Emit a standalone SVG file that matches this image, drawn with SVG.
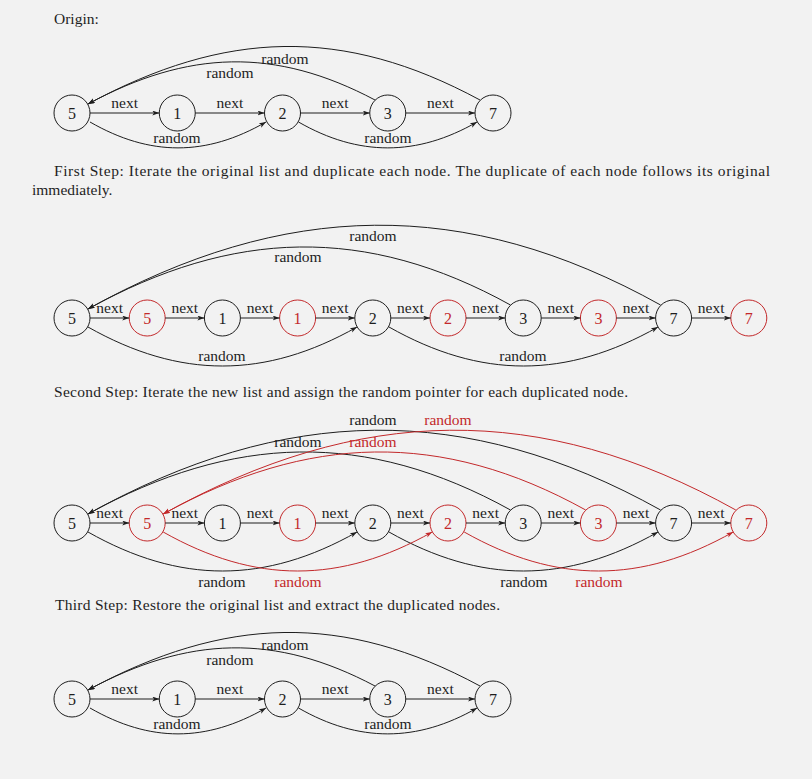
<svg xmlns="http://www.w3.org/2000/svg" width="812" height="779" viewBox="0 0 812 779">
<defs>
<marker id="ab" markerUnits="userSpaceOnUse" markerWidth="8" markerHeight="6" refX="7" refY="2.5" orient="auto"><path d="M0,0 L7,2.5 L0,5 L1.8,2.5 z" fill="#1e1e1e"/></marker>
<marker id="ar" markerUnits="userSpaceOnUse" markerWidth="8" markerHeight="6" refX="7" refY="2.5" orient="auto"><path d="M0,0 L7,2.5 L0,5 L1.8,2.5 z" fill="#c3292b"/></marker>
<style>
text{font-family:"Liberation Serif","Times New Roman",serif;fill:#1e1e1e}
.p{font-size:15.5px}
.l{font-size:15.5px;text-anchor:middle}
.d{font-size:16px;text-anchor:middle}
.rt{fill:#c3292b}
circle{fill:none;stroke:#1e1e1e;stroke-width:1}
circle.red{stroke:#c3292b}
.e path,.e line{fill:none;stroke:#1e1e1e;stroke-width:1;marker-end:url(#ab)}
.e .rd{stroke:#c3292b;marker-end:url(#ar)}
</style>
</defs>
<rect width="812" height="779" fill="#f2f2f2"/>

<text class="p" x="54" y="24">Origin:</text>
<text class="p" x="54" y="176" textLength="716" lengthAdjust="spacing">First Step:  Iterate the original list and duplicate each node.  The duplicate of each node follows its original</text>
<text class="p" x="32" y="195">immediately.</text>
<text class="p" x="54" y="397" textLength="574" lengthAdjust="spacing">Second Step: Iterate the new list and assign the random pointer for each duplicated node.</text>
<text class="p" x="55" y="610" textLength="445" lengthAdjust="spacing">Third Step: Restore the original list and extract the duplicated nodes.</text>

<!-- Row 1 -->
<g id="row1-nodes">
<g id="o-5"><circle cx="72" cy="113" r="18"/><text class="d" x="72" y="118.5">5</text></g>
<g id="o-1"><circle cx="177.25" cy="113" r="18"/><text class="d" x="177.25" y="118.5">1</text></g>
<g id="o-2"><circle cx="282.5" cy="113" r="18"/><text class="d" x="282.5" y="118.5">2</text></g>
<g id="o-3"><circle cx="387.75" cy="113" r="18"/><text class="d" x="387.75" y="118.5">3</text></g>
<g id="o-7"><circle cx="493" cy="113" r="18"/><text class="d" x="493" y="118.5">7</text></g>
</g>
<g id="row1-edges" class="e">
<line x1="90" y1="113" x2="159.25" y2="113"/>
<line x1="195.25" y1="113" x2="264.5" y2="113"/>
<line x1="300.5" y1="113" x2="369.75" y2="113"/>
<line x1="405.75" y1="113" x2="475" y2="113"/>
<path d="M90,122 C150,156.5 206,156.5 266,122"/>
<path d="M298.5,122 C358.5,156.5 417,156.5 477,122"/>
<path d="M375,100 C275,47 188,50 88,104"/>
<path d="M480,100 C343,26 225,30 88,104"/>
<text class="l" x="124.6" y="108">next</text>
<text class="l" x="229.9" y="108">next</text>
<text class="l" x="335.1" y="108">next</text>
<text class="l" x="440.4" y="108">next</text>
<text class="l" x="177" y="143">random</text>
<text class="l" x="388" y="143">random</text>
<text class="l" x="230" y="78">random</text>
<text class="l" x="285" y="63.5">random</text>
</g>

<!-- Row 2 -->
<g id="row2-nodes">
<g id="s1-5"><circle cx="72" cy="318" r="18"/><text class="d" x="72" y="323.5">5</text></g>
<g id="s1-5c"><circle class="red" cx="147.2" cy="318" r="18"/><text class="d rt" x="147.2" y="323.5">5</text></g>
<g id="s1-1"><circle cx="222.4" cy="318" r="18"/><text class="d" x="222.4" y="323.5">1</text></g>
<g id="s1-1c"><circle class="red" cx="297.6" cy="318" r="18"/><text class="d rt" x="297.6" y="323.5">1</text></g>
<g id="s1-2"><circle cx="372.8" cy="318" r="18"/><text class="d" x="372.8" y="323.5">2</text></g>
<g id="s1-2c"><circle class="red" cx="448" cy="318" r="18"/><text class="d rt" x="448" y="323.5">2</text></g>
<g id="s1-3"><circle cx="523.2" cy="318" r="18"/><text class="d" x="523.2" y="323.5">3</text></g>
<g id="s1-3c"><circle class="red" cx="598.4" cy="318" r="18"/><text class="d rt" x="598.4" y="323.5">3</text></g>
<g id="s1-7"><circle cx="673.6" cy="318" r="18"/><text class="d" x="673.6" y="323.5">7</text></g>
<g id="s1-7c"><circle class="red" cx="748.8" cy="318" r="18"/><text class="d rt" x="748.8" y="323.5">7</text></g>
</g>
<g id="row2-edges" class="e">
<line x1="90" y1="318" x2="129.2" y2="318"/>
<line x1="165.2" y1="318" x2="204.4" y2="318"/>
<line x1="240.4" y1="318" x2="279.6" y2="318"/>
<line x1="315.6" y1="318" x2="354.8" y2="318"/>
<line x1="390.8" y1="318" x2="430" y2="318"/>
<line x1="466" y1="318" x2="505.2" y2="318"/>
<line x1="541.2" y1="318" x2="580.4" y2="318"/>
<line x1="616.4" y1="318" x2="655.6" y2="318"/>
<line x1="691.6" y1="318" x2="730.8" y2="318"/>
<path d="M88,327 C180,379 265,379 357,327"/>
<path d="M389,327 C481,379 566,379 658,327"/>
<path d="M660.6,305 C465,196 284,200 88,309"/>
<path d="M510.5,305 C366,225 233,229 88,309"/>
<text class="l" x="109.6" y="313">next</text>
<text class="l" x="184.8" y="313">next</text>
<text class="l" x="260" y="313">next</text>
<text class="l" x="335.2" y="313">next</text>
<text class="l" x="410.4" y="313">next</text>
<text class="l" x="485.6" y="313">next</text>
<text class="l" x="560.8" y="313">next</text>
<text class="l" x="636" y="313">next</text>
<text class="l" x="711.2" y="313">next</text>
<text class="l" x="222" y="361">random</text>
<text class="l" x="523" y="361">random</text>
<text class="l" x="298" y="262">random</text>
<text class="l" x="373" y="241">random</text>
</g>

<!-- Row 3 -->
<g id="row3-nodes">
<g id="s2-5"><circle cx="72" cy="523" r="18"/><text class="d" x="72" y="528.5">5</text></g>
<g id="s2-5c"><circle class="red" cx="147.2" cy="523" r="18"/><text class="d rt" x="147.2" y="528.5">5</text></g>
<g id="s2-1"><circle cx="222.4" cy="523" r="18"/><text class="d" x="222.4" y="528.5">1</text></g>
<g id="s2-1c"><circle class="red" cx="297.6" cy="523" r="18"/><text class="d rt" x="297.6" y="528.5">1</text></g>
<g id="s2-2"><circle cx="372.8" cy="523" r="18"/><text class="d" x="372.8" y="528.5">2</text></g>
<g id="s2-2c"><circle class="red" cx="448" cy="523" r="18"/><text class="d rt" x="448" y="528.5">2</text></g>
<g id="s2-3"><circle cx="523.2" cy="523" r="18"/><text class="d" x="523.2" y="528.5">3</text></g>
<g id="s2-3c"><circle class="red" cx="598.4" cy="523" r="18"/><text class="d rt" x="598.4" y="528.5">3</text></g>
<g id="s2-7"><circle cx="673.6" cy="523" r="18"/><text class="d" x="673.6" y="528.5">7</text></g>
<g id="s2-7c"><circle class="red" cx="748.8" cy="523" r="18"/><text class="d rt" x="748.8" y="528.5">7</text></g>
</g>
<g id="row3-edges" class="e">
<line x1="90" y1="523" x2="129.2" y2="523"/>
<line x1="165.2" y1="523" x2="204.4" y2="523"/>
<line x1="240.4" y1="523" x2="279.6" y2="523"/>
<line x1="315.6" y1="523" x2="354.8" y2="523"/>
<line x1="390.8" y1="523" x2="430" y2="523"/>
<line x1="466" y1="523" x2="505.2" y2="523"/>
<line x1="541.2" y1="523" x2="580.4" y2="523"/>
<line x1="616.4" y1="523" x2="655.6" y2="523"/>
<line x1="691.6" y1="523" x2="730.8" y2="523"/>
<path d="M88,532 C180,584 265,584 357,532"/>
<path d="M389,532 C481,584 566,584 658,532"/>
<path d="M660.6,510 C465,401 284,405 88,514"/>
<path d="M510.5,510 C366,430 233,434 88,514"/>
<path class="rd" d="M163.2,532 C255.2,584 340.2,584 432.2,532"/>
<path class="rd" d="M464.2,532 C556.2,584 641.2,584 733.2,532"/>
<path class="rd" d="M735.8,510 C540.2,401 359.2,405 163.2,514"/>
<path class="rd" d="M585.7,510 C441.2,430 308.2,434 163.2,514"/>
<text class="l" x="109.6" y="518">next</text>
<text class="l" x="184.8" y="518">next</text>
<text class="l" x="260" y="518">next</text>
<text class="l" x="335.2" y="518">next</text>
<text class="l" x="410.4" y="518">next</text>
<text class="l" x="485.6" y="518">next</text>
<text class="l" x="560.8" y="518">next</text>
<text class="l" x="636" y="518">next</text>
<text class="l" x="711.2" y="518">next</text>
<text class="l" x="222" y="587">random</text>
<text class="l rt" x="298" y="587">random</text>
<text class="l" x="524" y="587">random</text>
<text class="l rt" x="599" y="587">random</text>
<text class="l" x="298" y="447">random</text>
<text class="l rt" x="373" y="447">random</text>
<text class="l" x="373" y="425">random</text>
<text class="l rt" x="448" y="425">random</text>
</g>

<!-- Row 4 -->
<g id="row4-nodes">
<g id="f-5"><circle cx="72" cy="699" r="18"/><text class="d" x="72" y="704.5">5</text></g>
<g id="f-1"><circle cx="177.25" cy="699" r="18"/><text class="d" x="177.25" y="704.5">1</text></g>
<g id="f-2"><circle cx="282.5" cy="699" r="18"/><text class="d" x="282.5" y="704.5">2</text></g>
<g id="f-3"><circle cx="387.75" cy="699" r="18"/><text class="d" x="387.75" y="704.5">3</text></g>
<g id="f-7"><circle cx="493" cy="699" r="18"/><text class="d" x="493" y="704.5">7</text></g>
</g>
<g id="row4-edges" class="e">
<line x1="90" y1="699" x2="159.25" y2="699"/>
<line x1="195.25" y1="699" x2="264.5" y2="699"/>
<line x1="300.5" y1="699" x2="369.75" y2="699"/>
<line x1="405.75" y1="699" x2="475" y2="699"/>
<path d="M90,708 C150,742.5 206,742.5 266,708"/>
<path d="M298.5,708 C358.5,742.5 417,742.5 477,708"/>
<path d="M375,686 C275,633 188,636 88,690"/>
<path d="M480,686 C343,612 225,616 88,690"/>
<text class="l" x="124.6" y="694">next</text>
<text class="l" x="229.9" y="694">next</text>
<text class="l" x="335.1" y="694">next</text>
<text class="l" x="440.4" y="694">next</text>
<text class="l" x="177" y="729">random</text>
<text class="l" x="388" y="729">random</text>
<text class="l" x="230" y="665">random</text>
<text class="l" x="285" y="649.5">random</text>
</g>
</svg>
